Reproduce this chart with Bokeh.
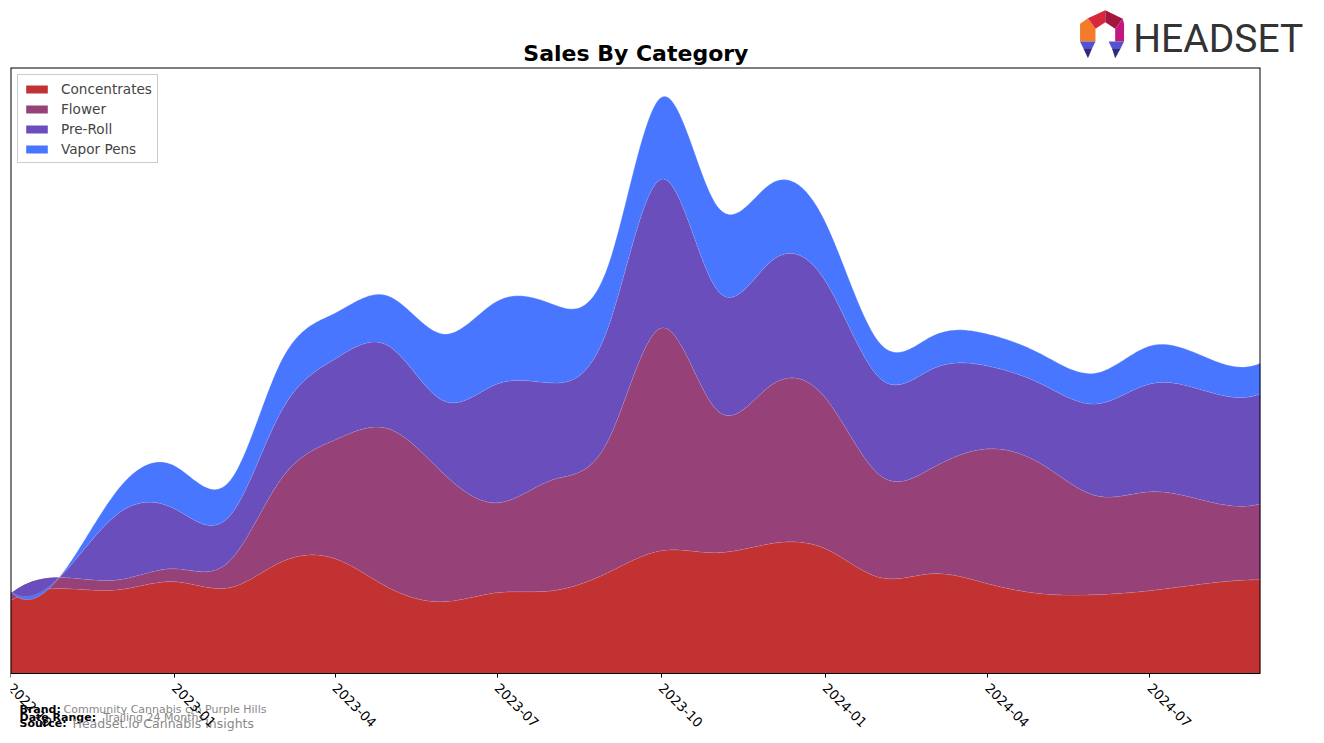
import numpy as np
import pandas as pd
from bokeh.plotting import figure
from bokeh.models import Range1d, FixedTicker, Legend, LegendItem
from bokeh.layouts import column
from bokeh.embed import file_html
from bokeh.resources import INLINE
from bokeh.core.properties import value

# ---------------- data (monthly sales, arbitrary units) ----------------
months = ["2022-10", "2022-11", "2022-12", "2023-01", "2023-02", "2023-03",
          "2023-04", "2023-05", "2023-06", "2023-07", "2023-08", "2023-09",
          "2023-10", "2023-11", "2023-12", "2024-01", "2024-02", "2024-03",
          "2024-04", "2024-05", "2024-06", "2024-07", "2024-08", "2024-09"]
concentrates = [73, 85, 84, 92, 86, 111, 115, 86, 72, 81, 83, 101,
                123, 121, 130, 125, 96, 100, 90, 80, 79, 83, 90, 94]
flower = [7, 11, 10, 13, 27, 82, 119, 159, 128, 90, 111, 132,
          223, 143, 158, 151, 102, 106, 135, 130, 99, 99, 83, 76]
pre_roll = [2, 7, 67, 60, 45, 67, 81, 83, 73, 119, 97, 113,
            149, 121, 124, 117, 97, 99, 83, 80, 92, 108, 110, 110]
vapor_pens = [0, 2, 25, 43, 35, 50, 46, 50, 67, 83, 79, 62,
              82, 84, 78, 59, 35, 33, 32, 30, 31, 38, 34, 31]
categories = ["Concentrates", "Flower", "Pre-Roll", "Vapor Pens"]
colors = ["#C23232", "#964278", "#6A4EBC", "#4876FF"]
tick_labels = ["2022-10", "2023-01", "2023-04", "2023-07",
               "2023-10", "2024-01", "2024-04", "2024-07"]

brand = "Community Cannabis c/o Purple Hills"
date_range = "Trailing 24 Months"
source = "Headset.io Cannabis Insights"


# ---------------- smoothing (not-a-knot cubic spline) ----------------
def spline(xk, yk, xs):
    xk = np.asarray(xk, float)
    yk = np.asarray(yk, float)
    n = len(xk)
    h = np.diff(xk)
    A = np.zeros((n, n))
    b = np.zeros(n)
    A[0, 0], A[0, 1], A[0, 2] = h[1], -(h[0] + h[1]), h[0]
    for i in range(1, n - 1):
        A[i, i - 1] = h[i - 1]
        A[i, i] = 2 * (h[i - 1] + h[i])
        A[i, i + 1] = h[i]
        b[i] = 6 * ((yk[i + 1] - yk[i]) / h[i] - (yk[i] - yk[i - 1]) / h[i - 1])
    A[n - 1, n - 3], A[n - 1, n - 2], A[n - 1, n - 1] = h[n - 2], -(h[n - 3] + h[n - 2]), h[n - 3]
    M = np.linalg.solve(A, b)
    idx = np.clip(np.searchsorted(xk, xs, side="right") - 1, 0, n - 2)
    x0, x1 = xk[idx], xk[idx + 1]
    hh = x1 - x0
    return (M[idx] * (x1 - xs) ** 3 / (6 * hh) + M[idx + 1] * (xs - x0) ** 3 / (6 * hh)
            + (yk[idx] / hh - M[idx] * hh / 6) * (x1 - xs)
            + (yk[idx + 1] / hh - M[idx + 1] * hh / 6) * (xs - x0))


dates = pd.to_datetime([m + "-01" for m in months])
xdays = ((dates - dates[0]) / pd.Timedelta(days=1)).to_numpy().astype(float)
xs_days = np.linspace(xdays[0], xdays[-1], 700)
t0_ms = dates[0].value / 1e6
xs_ms = t0_ms + xs_days * 86400000.0

series = [concentrates, flower, pre_roll, vapor_pens]
smooth = [spline(xdays, s, xs_days) for s in series]
ymax = float(np.max(np.cumsum(smooth, axis=0))) * 1.05

FRAME_W, PLOT_H, FOOT_H = 1250, 606, 63
val_per_px = ymax / PLOT_H
ms_per_px = (xs_ms[-1] - xs_ms[0]) / FRAME_W
ymin = -FOOT_H * val_per_px

# ---------------- header figure (title + logo) ----------------
top = figure(width=1320, height=65, x_range=Range1d(0, 1320), y_range=Range1d(65, 0),
             toolbar_location=None, output_backend="svg", min_border=0)
top.axis.visible = False
top.grid.visible = False
top.outline_line_color = None

top.text(x=[635], y=[53], text=["Sales By Category"], text_font=value("DejaVu Sans"),
         text_font_style="bold", text_font_size="22px", text_align="center",
         text_baseline="middle", text_color="black")

# logo icon (decoration)
def lz(pts):
    return [q[0] / 3 + 1080 for q in pts], [q[1] / 3 + 5 for q in pts]

pieces = [
    ([(42, 38), (18, 55), (18, 108), (65, 108), (65, 70)], "#F47B2A"),
    ([(42, 38), (95, 14), (95, 50), (65, 70)], "#D8263C"),
    ([(95, 14), (148, 40), (125, 70), (95, 50)], "#A3173F"),
    ([(148, 40), (152, 55), (152, 108), (125, 108), (125, 70)], "#C2187E"),
    ([(18, 108), (65, 108), (55, 128), (28, 128)], "#5552D1"),
    ([(28, 128), (55, 128), (42, 158)], "#2E2A86"),
    ([(105, 108), (152, 108), (142, 128), (115, 128)], "#5552D1"),
    ([(115, 128), (142, 128), (125, 158)], "#2E2A86"),
]
lxs, lys, lcs = [], [], []
for pts, c in pieces:
    a, b2 = lz(pts)
    lxs.append(a)
    lys.append(b2)
    lcs.append(c)
top.patches(xs=lxs, ys=lys, fill_color=lcs, line_color=None)
top.text(x=[1140], y=[38], text=["HEADSET"], text_font=value("Roboto"),
         text_font_size="39px", text_align="left", text_baseline="middle",
         text_color="#333333")

# ---------------- main chart ----------------
# the frame reaches below the plot box so the footer texts can sit under the axis
p = figure(frame_width=FRAME_W, frame_height=PLOT_H + FOOT_H, toolbar_location=None,
           output_backend="svg", x_range=Range1d(xs_ms[0], xs_ms[-1]),
           y_range=Range1d(ymin, ymax), min_border_left=10, min_border_top=2,
           min_border_right=10, min_border_bottom=0)
p.grid.visible = False
p.yaxis.visible = False
p.outline_line_color = None
p.background_fill_color = "white"

base = np.zeros_like(xs_days)
items = []
for name, s, c in zip(categories, smooth, colors):
    r = p.varea(x=xs_ms, y1=base, y2=base + s, fill_color=c, fill_alpha=1)
    p.line(xs_ms, base + s, line_color="white", line_alpha=0.3, line_width=0.8)
    items.append(LegendItem(label=name, renderers=[r]))
    base = base + s

# plot box (left, top, right edges; bottom edge is the x axis line)
x_lo, x_hi = xs_ms[0], xs_ms[-1]
p.multi_line(xs=[[x_lo, x_lo], [x_lo, x_hi], [x_hi, x_hi]],
             ys=[[0, ymax], [ymax, ymax], [ymax, 0]],
             line_color="black", line_width=2)

tick_ms = [pd.Timestamp(t + "-01").value / 1e6 for t in tick_labels]
p.xaxis.fixed_location = 0
p.xaxis.ticker = FixedTicker(ticks=tick_ms)
p.xaxis.major_label_overrides = {t: lab for t, lab in zip(tick_ms, tick_labels)}
p.xaxis.minor_tick_line_color = None
p.xaxis.major_tick_in = 0
p.xaxis.major_tick_out = 4
p.xaxis.major_tick_line_color = "black"
p.xaxis.axis_line_color = "black"
p.xaxis.major_label_orientation = -np.pi / 4
p.xaxis.major_label_text_font = "DejaVu Sans"
p.xaxis.major_label_text_font_size = "13.3px"
p.xaxis.major_label_text_color = "black"
p.xaxis.major_label_standoff = 8

legend = Legend(items=items, location="top_left", margin=7, padding=5, spacing=3,
                label_height=17, glyph_width=27, glyph_height=10, label_standoff=11,
                label_text_font="DejaVu Sans", label_text_font_size="13.6px",
                border_line_color="#cccccc", border_line_alpha=1,
                background_fill_alpha=0.8)
p.add_layout(legend)

# footer texts (pixel offsets from the plot box's bottom-left corner)
def foot(px, py, txt, bold, size, color):
    p.text(x=[x_lo + px * ms_per_px], y=[-py * val_per_px], text=[txt],
           text_font=value("DejaVu Sans"), text_font_size=size,
           text_font_style="bold" if bold else "normal",
           text_color=color, text_baseline="alphabetic", text_align="left")


foot(9, 36, "Brand:", True, "11px", "black")
foot(53, 36, brand, False, "11px", "#888888")
foot(9, 44, "Date Range:", True, "11px", "black")
foot(93, 44, date_range, False, "11px", "#888888")
foot(9, 50, "Source:", True, "11px", "black")
foot(62, 50, source, False, "12.5px", "#888888")

layout = column(top, p, spacing=0)
open("out.html", "w").write(file_html(layout, INLINE))
